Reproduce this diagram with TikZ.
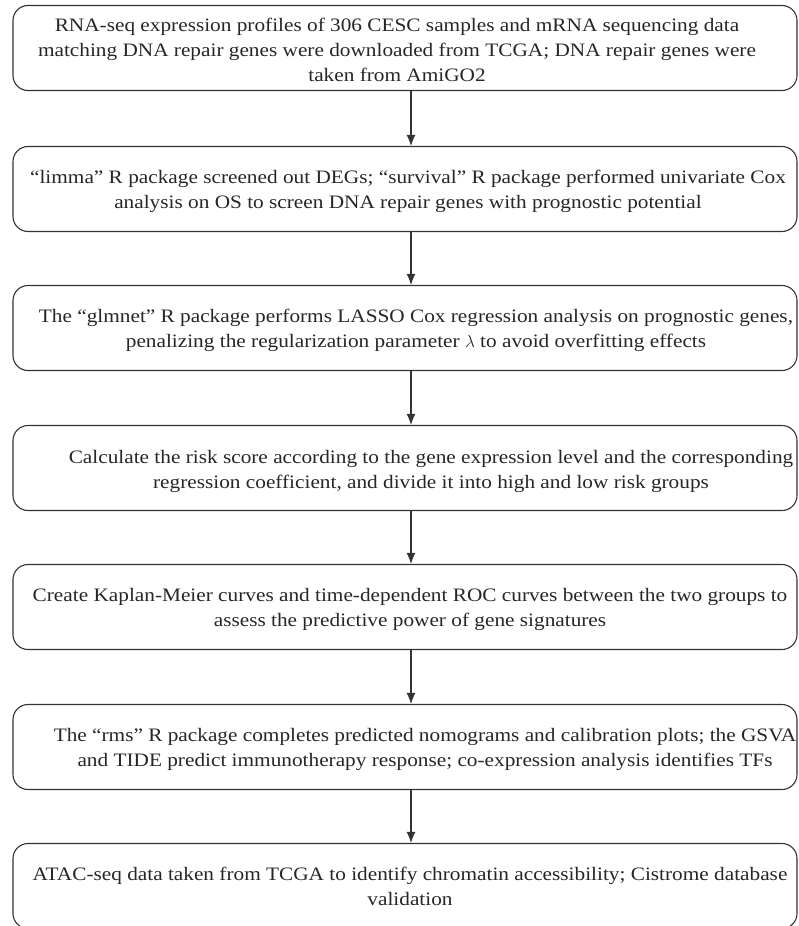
\documentclass[tikz,border=0pt]{standalone}
\usepackage{fontspec}
\setmainfont{Liberation Serif}[FakeStretch=1.12]
\usetikzlibrary{arrows.meta}

\begin{document}
\begin{tikzpicture}[x=1pt,y=1pt,
  stepbox/.style={draw=black!80, line width=1.1pt, rounded corners=15pt, minimum width=784pt, minimum height=85pt, inner sep=0pt},
  steptext/.style={font=\fontsize{19}{25}\selectfont, align=center, text=black!85, inner sep=0pt},
  flow/.style={draw=black!80, line width=1.1pt, -{Latex[length=11pt,width=9pt]}}]
\useasboundingbox (0,0) rectangle (798,-926);
\node[stepbox] (b1) at (405,-48) {};
\node[stepbox] (b2) at (405,-189) {};
\node[stepbox] (b3) at (405,-328) {};
\node[stepbox] (b4) at (405,-468) {};
\node[stepbox] (b5) at (405,-607) {};
\node[stepbox] (b6) at (405,-747) {};
\node[stepbox] (b7) at (405,-886) {};
\node[steptext] (t1) at (397,-50) {RNA-seq expression profiles of 306 CESC samples and mRNA sequencing data\\matching DNA repair genes were downloaded from TCGA; DNA repair genes were\\taken from AmiGO2};
\node[steptext] (t2) at (408,-191) {“limma” R package screened out DEGs; “survival” R package performed univariate Cox\\analysis on OS to screen DNA repair genes with prognostic potential};
\node[steptext] (t3) at (416,-330) {The “glmnet” R package performs LASSO Cox regression analysis on prognostic genes,\\penalizing the regularization parameter $\lambda$ to avoid overfitting effects};
\node[steptext] (t4) at (431,-471) {Calculate the risk score according to the gene expression level and the corresponding\\regression coefficient, and divide it into high and low risk groups};
\node[steptext] (t5) at (410,-609) {Create Kaplan-Meier curves and time-dependent ROC curves between the two groups to\\assess the predictive power of gene signatures};
\node[steptext] (t6) at (425,-749) {The “rms” R package completes predicted nomograms and calibration plots; the GSVA\\and TIDE predict immunotherapy response; co-expression analysis identifies TFs};
\node[steptext] (t7) at (410,-886) {ATAC-seq data taken from TCGA to identify chromatin accessibility; Cistrome database\\validation};
\draw[flow] ([xshift=6pt]b1.south) -- ([xshift=6pt]b2.north);
\draw[flow] ([xshift=6pt]b2.south) -- ([xshift=6pt]b3.north);
\draw[flow] ([xshift=6pt]b3.south) -- ([xshift=6pt]b4.north);
\draw[flow] ([xshift=6pt]b4.south) -- ([xshift=6pt]b5.north);
\draw[flow] ([xshift=6pt]b5.south) -- ([xshift=6pt]b6.north);
\draw[flow] ([xshift=6pt]b6.south) -- ([xshift=6pt]b7.north);
\end{tikzpicture}
\end{document}
